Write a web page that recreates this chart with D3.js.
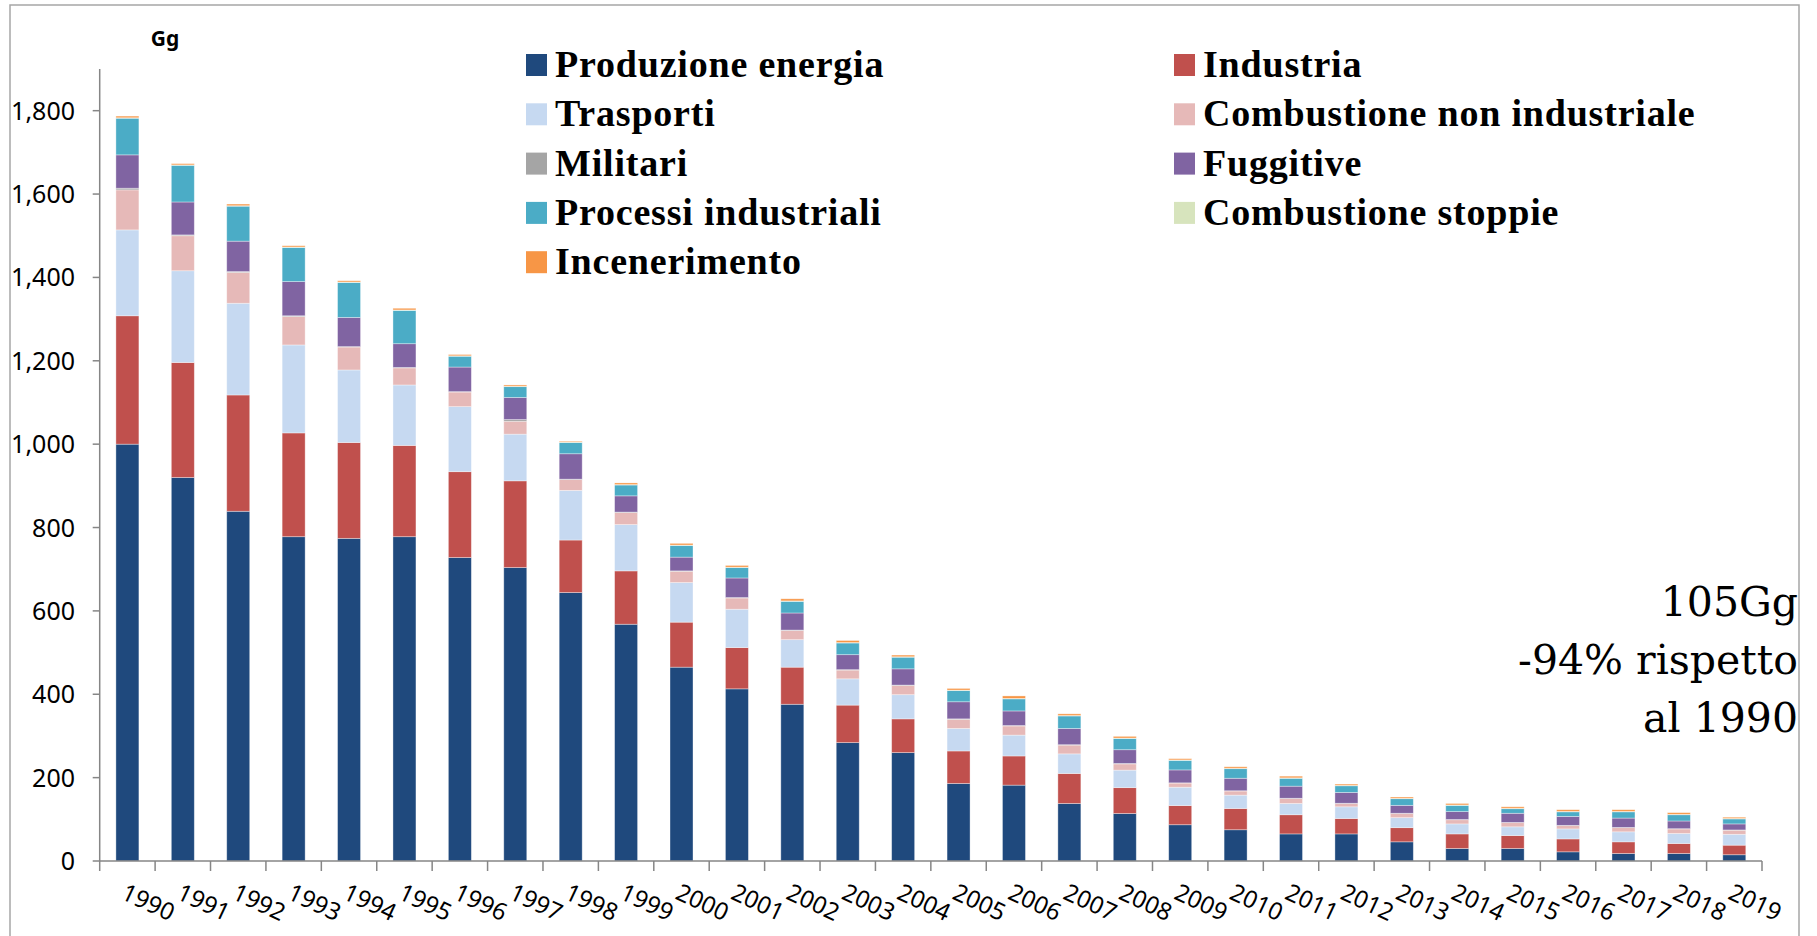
<!DOCTYPE html>
<html>
<head>
<meta charset="utf-8">
<script src="https://cdn.jsdelivr.net/npm/d3@7"></script>
<style>
  body { margin: 0; background: #fff; }
  svg { display: block; }
</style>
</head>
<body>
<svg id="chart" width="1817" height="936"></svg>
<script>
// Years on the x axis
const years = d3.range(1990, 2020).map(String);

// Emissions by sector, Gg
const produzioneEnergia = [1000, 920, 839, 778, 774, 778, 728, 704, 644, 568, 465, 413, 376, 284, 260, 186, 182, 138, 114, 87, 75, 65, 65, 46, 30, 30, 22, 18, 18, 15];
const industria = [308, 276, 279, 249, 230, 219, 206, 208, 126, 128, 108, 99, 89, 90, 81, 78, 70, 72, 62, 46, 51, 46, 37, 34, 35, 31, 31, 28, 24, 23];
const trasporti = [206, 220, 220, 211, 174, 145, 156, 112, 119, 111, 95, 92, 66, 63, 58, 54, 50, 47, 42, 44, 32, 27, 28, 24, 24, 21, 24, 24, 24, 26];
const combNonIndustriale = [96, 84, 74, 68, 55, 41, 35, 31, 26, 29, 27, 27, 22, 21, 22, 22, 22, 21, 15, 10, 10, 12, 8, 10, 10, 10, 8, 10, 11, 10];
const militari = [4, 2, 2, 2, 1, 1, 1, 4, 1, 1, 1, 1, 1, 1, 1, 1, 1, 1, 1, 0.5, 0.5, 0.5, 0.5, 0.5, 0.5, 0.5, 0.5, 0.5, 0.5, 0.5];
const fuggitive = [80, 79, 73, 82, 70, 57, 59, 53, 61, 39, 33, 47, 41, 36, 39, 41, 35, 39, 33, 31, 30, 29, 26, 19, 19, 22, 21.5, 22.5, 18.5, 14.5];
const processiIndustriali = [88, 88, 84, 82, 84, 80, 26, 26, 27, 26, 28, 25, 28, 28, 28, 27, 29, 30, 27, 23, 23, 19, 16, 16, 15, 11, 11, 15, 15, 12];
const combStoppie = [1, 1, 1, 1, 1, 1, 1, 1, 1, 1, 1, 1, 1, 1, 1, 1, 1, 1, 1, 1, 1, 1, 1, 1, 1, 1, 1, 1, 1, 1];
const incenerimento = [4, 3, 4, 3, 3, 4, 3, 3, 2, 4, 4, 4, 5, 5, 4, 4, 6, 4, 4, 3, 3.5, 4, 3, 3, 3.5, 3.5, 4, 4, 4, 3];

const yTicks = [0, 200, 400, 600, 800, 1000, 1200, 1400, 1600, 1800];

// Series, stacking order bottom to top
const series = [
  { key: "Produzione energia", values: produzioneEnergia, color: "#1F497D" },
  { key: "Industria", values: industria, color: "#C0504D" },
  { key: "Trasporti", values: trasporti, color: "#C6D9F1" },
  { key: "Combustione non industriale", values: combNonIndustriale, color: "#E6B9B8" },
  { key: "Militari", values: militari, color: "#A5A5A5" },
  { key: "Fuggitive", values: fuggitive, color: "#8064A2" },
  { key: "Processi industriali", values: processiIndustriali, color: "#4BACC6" },
  { key: "Combustione stoppie", values: combStoppie, color: "#D7E4BD" },
  { key: "Incenerimento", values: incenerimento, color: "#F79646" }
];

// Table for d3.stack
const table = years.map((year, i) => {
  const row = { year };
  series.forEach(s => { row[s.key] = s.values[i]; });
  return row;
});

const svg = d3.select("#chart");

// Outer frame
svg.append("rect")
  .attr("x", 10).attr("y", 5)
  .attr("width", 1789).attr("height", 945)
  .attr("fill", "none")
  .attr("stroke", "#a6a6a6")
  .attr("stroke-width", 1.5);

// Scales
const x = d3.scaleBand()
  .domain(years)
  .range([99.7, 1762])
  .paddingInner(0.585)
  .paddingOuter(0.2925);

const y = d3.scaleLinear()
  .domain([0, 1900])
  .range([861, 69]);

const stacked = d3.stack().keys(series.map(s => s.key))(table);
const colorOf = d3.scaleOrdinal().domain(series.map(s => s.key)).range(series.map(s => s.color));

// Bars
const layers = svg.append("g").selectAll("g")
  .data(stacked)
  .join("g")
  .attr("fill", d => colorOf(d.key));

layers.selectAll("rect")
  .data(d => d)
  .join("rect")
  .attr("x", d => x(d.data.year))
  .attr("width", x.bandwidth())
  .attr("y", d => y(d[1]))
  .attr("height", d => Math.max(0, y(d[0]) - y(d[1])))
  .attr("stroke", "#ffffff")
  .attr("stroke-opacity", 0.45)
  .attr("stroke-width", 0.8);

const axisColor = "#868686";

// Y axis
svg.append("line")
  .attr("x1", x.range()[0]).attr("x2", x.range()[0])
  .attr("y1", y(1900)).attr("y2", y(0))
  .attr("stroke", axisColor).attr("stroke-width", 1.5);

const yAxis = svg.append("g");
yAxis.selectAll("line")
  .data(yTicks)
  .join("line")
  .attr("x1", x.range()[0] - 7).attr("x2", x.range()[0])
  .attr("y1", d => y(d)).attr("y2", d => y(d))
  .attr("stroke", axisColor).attr("stroke-width", 1.5);

yAxis.selectAll("text")
  .data(yTicks)
  .join("text")
  .attr("x", 75)
  .attr("y", d => y(d))
  .attr("dy", "0.36em")
  .attr("text-anchor", "end")
  .attr("font-family", "'Noto Sans', sans-serif")
  .attr("font-size", 25)
  .attr("fill", "#000")
  .text(d => d3.format(",")(d));

// X axis
svg.append("line")
  .attr("x1", x.range()[0]).attr("x2", x.range()[1])
  .attr("y1", y(0)).attr("y2", y(0))
  .attr("stroke", axisColor).attr("stroke-width", 1.5);

const bounds = d3.range(years.length + 1).map(i => x.range()[0] + i * x.step());
svg.append("g").selectAll("line")
  .data(bounds)
  .join("line")
  .attr("x1", d => d).attr("x2", d => d)
  .attr("y1", y(0)).attr("y2", y(0) + 10)
  .attr("stroke", axisColor).attr("stroke-width", 1.5);

svg.append("g").selectAll("text")
  .data(years)
  .join("text")
  .attr("transform", d => `translate(${x(d) + x.bandwidth() / 2 + 21},${902}) rotate(25)`)
  .attr("dy", "0.36em")
  .attr("text-anchor", "middle")
  .attr("font-family", "'Noto Sans', sans-serif")
  .attr("font-size", 24)
  .attr("fill", "#000")
  .text(d => d);

// Unit label
svg.append("text")
  .attr("x", 165).attr("y", 46)
  .attr("text-anchor", "middle")
  .attr("font-family", "'Noto Sans', sans-serif")
  .attr("font-weight", "bold")
  .attr("font-size", 21)
  .text("Gg");

// Legend: two columns, filled row by row
const legendCols = [526, 1174];
const legend = svg.append("g").selectAll("g")
  .data(series)
  .join("g")
  .attr("transform", (d, i) => `translate(${legendCols[i % 2]},${65 + Math.floor(i / 2) * 49.3})`);

legend.append("rect")
  .attr("x", 0).attr("y", -11)
  .attr("width", 21).attr("height", 22)
  .attr("fill", d => d.color);

legend.append("text")
  .attr("x", 29).attr("y", 12)
  .attr("font-family", "'Liberation Serif', serif")
  .attr("font-weight", "bold")
  .attr("font-size", 38)
  .attr("letter-spacing", 0.8)
  .attr("fill", "#000")
  .text(d => d.key);

// Annotation
const note = ["105Gg", "-94% rispetto", "al 1990"];
svg.append("g").selectAll("text")
  .data(note)
  .join("text")
  .attr("x", 1798)
  .attr("y", (d, i) => 616 + i * 58)
  .attr("text-anchor", "end")
  .attr("font-family", "'DejaVu Serif', serif")
  .attr("font-size", 41)
  .attr("fill", "#000")
  .text(d => d);
</script>
</body>
</html>
